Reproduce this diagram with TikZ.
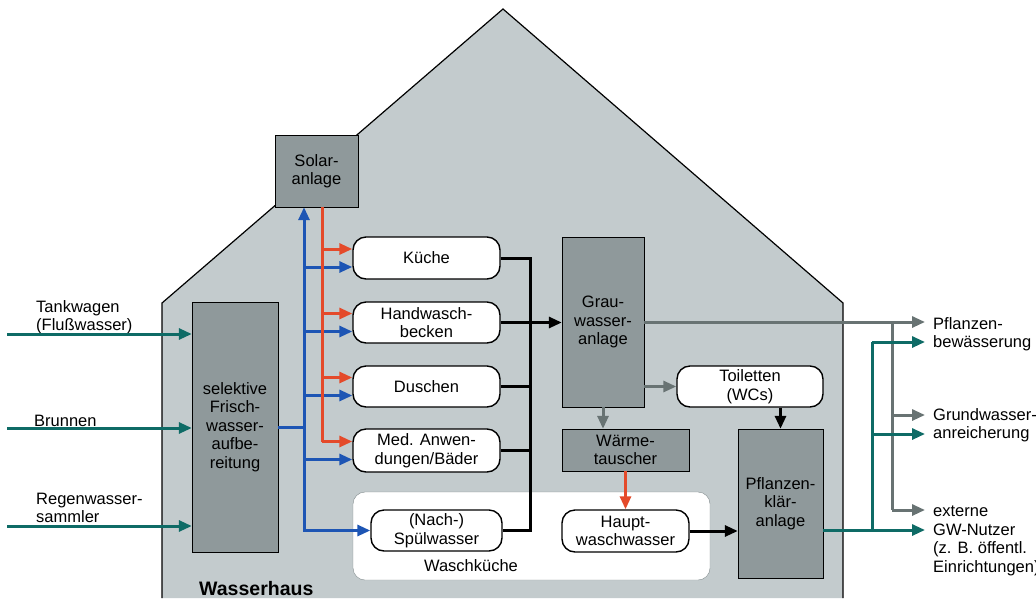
\documentclass[tikz,border=0pt]{standalone}
\usepackage{fontspec}
\setmainfont{Liberation Sans}
\usetikzlibrary{arrows.meta,calc}
\definecolor{housegray}{HTML}{C3CBCD}
\definecolor{boxgray}{HTML}{8F999B}
\definecolor{pipegray}{HTML}{687373}
\definecolor{pipeteal}{HTML}{0E6B66}
\definecolor{pipeblue}{HTML}{1D55B4}
\definecolor{pipered}{HTML}{E44A2A}
\definecolor{roomedge}{HTML}{808A8C}
\begin{document}
\begin{tikzpicture}[x=1pt,y=-1pt,
        font=\fontsize{16.5}{18.5}\selectfont,
        plant/.style={draw,fill=boxgray,inner sep=0pt,align=center},
        useroom/.style={draw,fill=white,rounded corners=13pt,line width=1.4pt,inner sep=0pt,align=center},
        sidetext/.style={inner sep=0pt,anchor=west,align=left},
        flow/.style={line width=3pt},
        blueflow/.style={flow,pipeblue},
        redflow/.style={flow,pipered},
        tealflow/.style={flow,pipeteal},
        grayflow/.style={flow,pipegray},
        blackflow/.style={flow,black},
        >={Triangle[length=13pt,width=11pt]}]
  \useasboundingbox (0,0) rectangle (1036,598);
  % house
  \fill[housegray] (162,598) -- (162,303) -- (503,9) -- (843,303) -- (843,598) -- cycle;
  \draw[line width=1.2pt] (162,598) -- (162,303) -- (503,9) -- (843,303) -- (843,598);
  \node[anchor=base west,inner sep=0pt,font=\fontsize{19.5}{22}\selectfont\bfseries] (haus) at (199,595) {Wasserhaus};

  % plants
  \node[plant,minimum width=86pt,minimum height=250pt] (frisch) at (235,427) {selektive\\Frisch-\\wasser-\\aufbe-\\reitung};
  \node[plant,minimum width=83pt,minimum height=72pt] (solar) at (316.5,171) {Solar-\\anlage};
  \node[plant,minimum width=82pt,minimum height=170pt] (grau) at (603,322) {Grau-\\wasser-\\anlage};
  \node[plant,minimum width=127pt,minimum height=42pt] (waerme) at (625.5,450) {Wärme-\\tauscher};
  \node[plant,minimum width=85pt,minimum height=149pt] (pkl) at (780.5,503.5) {Pflanzen-\\klär-\\anlage};

  % consumers
  \node[draw=roomedge,fill=white,rounded corners=12pt,minimum width=357pt,minimum height=88pt] (wk) at (531.5,536) {};
  \node[inner sep=0pt] (wklabel) at (471,566) {Waschküche};
  \node[useroom,minimum width=147pt,minimum height=42pt] (kueche) at (426.5,258) {Küche};
  \node[useroom,minimum width=147pt,minimum height=41pt] (hand) at (426.5,322.5) {Handwasch-\\becken};
  \node[useroom,minimum width=147pt,minimum height=41pt] (dusche) at (426.5,386.5) {Duschen};
  \node[useroom,minimum width=147pt,minimum height=43pt] (med) at (426.5,450.5) {Med. Anwen-\\dungen/Bäder};
  \node[useroom,minimum width=131pt,minimum height=41pt] (spuel) at (436.5,530.5) {(Nach-)\\Spülwasser};
  \node[useroom,minimum width=127pt,minimum height=42pt] (haupt) at (625.5,531) {Haupt-\\waschwasser};
  \node[useroom,minimum width=146pt,minimum height=41pt] (toil) at (750,386.5) {Toiletten\\(WCs)};

  % sources
  \node[sidetext] (tanklabel) at (36,317) {Tankwagen\\(Flußwasser)};
  \node[sidetext] (brunnlabel) at (34,421) {Brunnen};
  \node[sidetext] (regenlabel) at (36,508) {Regenwasser-\\sammler};
  \coordinate (tank) at (7,334);
  \coordinate (brunn) at (7,428);
  \coordinate (regen) at (7,526);
  \foreach \q in {tank,brunn,regen}
    \draw[tealflow,->] (\q) -- (\q -| frisch.west);

  % fresh water
  \coordinate (bv) at (304,0);
  \coordinate (rv) at (322,0);
  \draw[blueflow] (frisch.east) -- (bv |- frisch.east);
  \draw[blueflow,<->] (spuel.west) -- (bv |- spuel.west) -- (bv |- solar.south);
  \foreach \n in {kueche,hand,dusche,med}{
    \coordinate (\n-r) at ($(\n.west)+(0,-9)$);
    \coordinate (\n-b) at ($(\n.west)+(0,9)$);
    \draw[redflow,->] (rv |- \n-r) -- (\n-r);
    \draw[blueflow,->] (bv |- \n-b) -- (\n-b);
  }
  \draw[redflow] (rv |- solar.south) -- (rv |- med-r);

  % grey water
  \coordinate (bus) at (530,0);
  \draw[blackflow] (kueche.east) -- (bus |- kueche.east) -- (bus |- spuel.east) -- (spuel.east);
  \foreach \n in {dusche,med}
    \draw[blackflow] (\n.east) -- (bus |- \n.east);
  \draw[blackflow,->] (hand.east) -- (grau.west |- hand.east);
  \draw[grayflow,->] (grau.east |- toil.west) -- (toil.west);
  \draw[grayflow,->] (grau.south) -- (grau.south |- waerme.north);
  \draw[redflow,->] (waerme.south) -- (haupt.north);
  \draw[blackflow,->] (pkl.north |- toil.south) -- (pkl.north);
  \draw[blackflow,->] (haupt.east) -- (pkl.west |- haupt.east);

  % outputs
  \node[sidetext] (pbtext) at (933,334) {Pflanzen-\\bewässerung};
  \node[sidetext] (gwtext) at (933,425) {Grundwasser-\\anreicherung};
  \node[sidetext] (extext) at (933,541) {externe\\GW-Nutzer\\(z. B. öffentl.\\Einrichtungen)};
  \coordinate (pb1) at (925,322);
  \coordinate (gw1) at (925,415);
  \coordinate (ex1) at (925,510);
  \coordinate (pb2) at (925,342);
  \coordinate (gw2) at (925,434);
  \coordinate (ex2) at (925,530);
  \coordinate (gv) at (892,0);
  \coordinate (tv) at (872,0);
  \draw[grayflow,->] (grau.east) -- (pb1);
  \draw[grayflow] (gv |- pb1) -- (gv |- ex1);
  \draw[grayflow,->] (gv |- gw1) -- (gw1);
  \draw[grayflow,->] (gv |- ex1) -- (ex1);
  \draw[tealflow,->] (pkl.east |- ex2) -- (ex2);
  \draw[tealflow] (tv |- ex2) -- (tv |- pb2);
  \draw[tealflow,->] (tv |- pb2) -- (pb2);
  \draw[tealflow,->] (tv |- gw2) -- (gw2);
\end{tikzpicture}
\end{document}
